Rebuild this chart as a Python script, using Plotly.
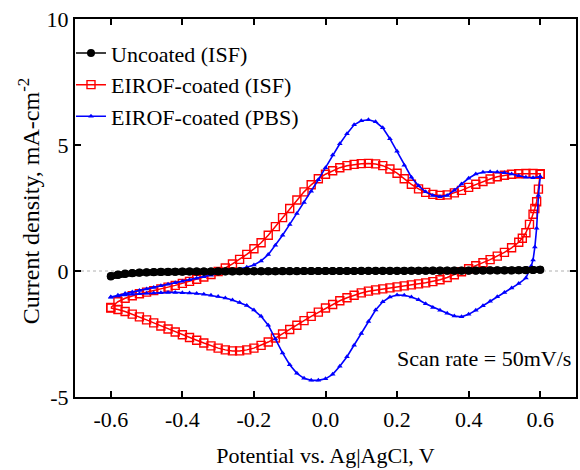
import plotly.graph_objects as go

# ---- cyclic voltammetry data (potential in V vs Ag|AgCl, current density in mA/cm^2) ----

# potential grid of the anodic sweep (-0.6 V -> 0.6 V)
V_ANODIC = [-0.60, -0.58, -0.56, -0.54, -0.52, -0.50, -0.48, -0.46, -0.44, -0.42,
            -0.40, -0.38, -0.36, -0.34, -0.32, -0.30, -0.28, -0.26, -0.24, -0.22,
            -0.20, -0.18, -0.16, -0.14, -0.12, -0.10, -0.08, -0.06, -0.04, -0.02,
            0.00, 0.02, 0.04, 0.06, 0.08, 0.10, 0.12, 0.14, 0.16, 0.18,
            0.20, 0.22, 0.24, 0.26, 0.28, 0.30, 0.32, 0.34, 0.36, 0.38,
            0.40, 0.42, 0.44, 0.46, 0.48, 0.50, 0.52, 0.54, 0.56, 0.58,
            0.60]

# potential grid of the cathodic sweep (0.6 V -> -0.6 V)
V_CATHODIC = [0.60, 0.58, 0.56, 0.54, 0.52, 0.50, 0.48, 0.46, 0.44, 0.42,
              0.40, 0.38, 0.36, 0.34, 0.32, 0.30, 0.28, 0.26, 0.24, 0.22,
              0.20, 0.18, 0.16, 0.14, 0.12, 0.10, 0.08, 0.06, 0.04, 0.02,
              0.00, -0.02, -0.04, -0.06, -0.08, -0.10, -0.12, -0.14, -0.16, -0.18,
              -0.20, -0.22, -0.24, -0.26, -0.28, -0.30, -0.32, -0.34, -0.36, -0.38,
              -0.40, -0.42, -0.44, -0.46, -0.48, -0.50, -0.52, -0.54, -0.56, -0.58,
              -0.60]

# extra points at the switching potential, where the current falls steeply
V_SWITCH_ISF = [0.600, 0.595, 0.590, 0.585, 0.580, 0.570, 0.560, 0.550]
V_SWITCH_PBS = [0.600, 0.595, 0.590, 0.585, 0.580, 0.575, 0.570, 0.560]

# Uncoated electrode in ISF
I_UNCOATED_ANODIC = [-0.22, -0.16, -0.12, -0.09, -0.07, -0.06, -0.05, -0.04, -0.04, -0.03,
                     -0.03, -0.02, -0.02, -0.02, -0.02, -0.02, -0.02, -0.02, -0.01, -0.01,
                     -0.01, -0.01, -0.01, -0.01, -0.01, -0.01, -0.01, 0.00, 0.00, 0.00,
                     0.00, 0.00, 0.00, 0.00, 0.00, 0.00, 0.00, 0.00, 0.00, 0.00,
                     0.00, 0.00, 0.01, 0.01, 0.01, 0.01, 0.01, 0.01, 0.01, 0.01,
                     0.01, 0.01, 0.02, 0.02, 0.02, 0.02, 0.02, 0.03, 0.03, 0.04,
                     0.05]
I_UNCOATED_CATHODIC = [0.05, 0.04, 0.04, 0.03, 0.03, 0.03, 0.03, 0.03, 0.02, 0.02,
                       0.02, 0.02, 0.02, 0.02, 0.02, 0.02, 0.01, 0.01, 0.01, 0.01,
                       0.01, 0.01, 0.01, 0.01, 0.01, 0.01, 0.00, 0.00, 0.00, 0.00,
                       0.00, 0.00, 0.00, 0.00, 0.00, 0.00, 0.00, -0.01, -0.01, -0.01,
                       -0.01, -0.01, -0.01, -0.01, -0.01, -0.01, -0.02, -0.02, -0.02, -0.02,
                       -0.02, -0.03, -0.03, -0.03, -0.04, -0.05, -0.06, -0.08, -0.10, -0.14,
                       -0.20]

# EIROF-coated electrode in ISF
I_ISF_ANODIC = [-1.45, -1.22, -1.08, -0.98, -0.90, -0.84, -0.78, -0.71, -0.64, -0.57,
                -0.49, -0.41, -0.33, -0.24, -0.14, -0.02, 0.12, 0.28, 0.46, 0.66,
                0.88, 1.12, 1.42, 1.76, 2.12, 2.48, 2.82, 3.14, 3.42, 3.66,
                3.84, 3.98, 4.10, 4.18, 4.23, 4.26, 4.27, 4.25, 4.18, 4.05,
                3.88, 3.66, 3.44, 3.26, 3.12, 3.04, 3.00, 3.02, 3.10, 3.20,
                3.32, 3.44, 3.55, 3.65, 3.74, 3.80, 3.84, 3.86, 3.87, 3.87,
                3.86]
I_ISF_SWITCH = [3.84, 3.25, 2.75, 2.48, 2.25, 1.85, 1.52, 1.30]
I_ISF_CATHODIC = [1.14, 0.92, 0.74, 0.59, 0.45, 0.33, 0.21, 0.09, -0.03, -0.15,
                  -0.26, -0.35, -0.42, -0.47, -0.51, -0.55, -0.59, -0.63, -0.67, -0.71,
                  -0.75, -0.80, -0.87, -0.96, -1.06, -1.18, -1.33, -1.47, -1.63, -1.80,
                  -1.97, -2.15, -2.32, -2.50, -2.66, -2.82, -2.95, -3.06, -3.13, -3.17,
                  -3.17, -3.13, -3.06, -2.97, -2.86, -2.75, -2.64, -2.53, -2.42, -2.30,
                  -2.18, -2.06, -1.94, -1.82, -1.71, -1.61, -1.53, -1.47]

# EIROF-coated electrode in PBS
I_PBS_ANODIC = [-1.03, -0.96, -0.89, -0.83, -0.77, -0.71, -0.65, -0.59, -0.53, -0.47,
                -0.41, -0.35, -0.29, -0.23, -0.17, -0.11, -0.05, 0.01, 0.07, 0.15,
                0.24, 0.40, 0.65, 1.02, 1.42, 1.85, 2.28, 2.72, 3.16, 3.62,
                4.10, 4.60, 5.05, 5.45, 5.80, 5.96, 6.00, 5.92, 5.68, 5.25,
                4.75, 4.20, 3.72, 3.38, 3.14, 3.00, 2.95, 3.00, 3.20, 3.45,
                3.68, 3.85, 3.92, 3.94, 3.93, 3.90, 3.85, 3.78, 3.72, 3.70,
                3.74]
I_PBS_SWITCH = [3.74, 3.00, 1.70, 0.95, 0.44, 0.20, 0.04, -0.28]
I_PBS_CATHODIC = [-0.50, -0.67, -0.85, -1.02, -1.20, -1.38, -1.56, -1.72, -1.82, -1.79,
                  -1.68, -1.56, -1.45, -1.30, -1.14, -1.03, -0.96, -0.95, -1.03, -1.22,
                  -1.55, -2.00, -2.48, -2.95, -3.40, -3.78, -4.10, -4.28, -4.34, -4.34,
                  -4.26, -4.06, -3.72, -3.25, -2.70, -2.15, -1.80, -1.55, -1.37, -1.25,
                  -1.15, -1.07, -1.01, -0.96, -0.92, -0.89, -0.87, -0.86, -0.85, -0.85,
                  -0.86, -0.87, -0.88, -0.90, -0.92, -0.95, -0.99, -1.04]

X_TICKS = [-0.6, -0.4, -0.2, 0.0, 0.2, 0.4, 0.6]
X_TICK_TEXT = ["-0.6", "-0.4", "-0.2", "0.0", "0.2", "0.4", "0.6"]
Y_TICKS = [-5, 0, 5, 10]
Y_TICK_TEXT = ["-5", "0", "5", "10"]

# ---- assemble closed cycles ----
isf_v_cath = V_SWITCH_ISF + V_CATHODIC[len(V_CATHODIC) - len(I_ISF_CATHODIC):]
pbs_v_cath = V_SWITCH_PBS + V_CATHODIC[len(V_CATHODIC) - len(I_PBS_CATHODIC):]

uncoated_x = V_ANODIC + V_CATHODIC
uncoated_y = I_UNCOATED_ANODIC + I_UNCOATED_CATHODIC
isf_x = V_ANODIC + isf_v_cath
isf_y = I_ISF_ANODIC + I_ISF_SWITCH + I_ISF_CATHODIC
pbs_x = V_ANODIC + pbs_v_cath
pbs_y = I_PBS_ANODIC + I_PBS_SWITCH + I_PBS_CATHODIC

FONT = "Liberation Serif, Times New Roman, serif"
FS = 22

fig = go.Figure()

fig.add_trace(go.Scatter(
    x=isf_x, y=isf_y, mode="lines+markers", name="EIROF-coated (ISF)",
    line=dict(color="#ff0000", width=1.5),
    marker=dict(symbol="square-open", size=8, color="#ff0000", line=dict(width=1.4)),
    legendrank=2,
))
fig.add_trace(go.Scatter(
    x=pbs_x, y=pbs_y, mode="lines+markers", name="EIROF-coated (PBS)",
    line=dict(color="#0000ff", width=1.6),
    marker=dict(symbol="triangle-up", size=5, color="#0000ff"),
    legendrank=3,
))
# thick band underneath the uncoated-electrode markers
fig.add_trace(go.Scatter(
    x=uncoated_x, y=uncoated_y, mode="lines", showlegend=False, hoverinfo="skip",
    line=dict(color="#000000", width=6),
))
fig.add_trace(go.Scatter(
    x=uncoated_x, y=uncoated_y, mode="lines+markers", name="Uncoated (ISF)",
    line=dict(color="#000000", width=1.5),
    marker=dict(symbol="circle", size=8, color="#000000"),
    legendrank=1,
))

# dotted zero-current reference line
fig.add_shape(type="line", xref="paper", x0=0, x1=1, yref="y", y0=0, y1=0,
              line=dict(color="#b0b0b0", width=1, dash="dot"), layer="below")

axis_common = dict(
    showline=True, linecolor="black", linewidth=2, mirror="ticks",
    ticks="inside", ticklen=6, tickwidth=2, tickcolor="black",
    showgrid=False, zeroline=False,
    tickfont=dict(family=FONT, size=FS, color="black"),
)

fig.update_xaxes(range=[-0.7, 0.7], tickvals=X_TICKS, ticktext=X_TICK_TEXT,
                 ticklabelstandoff=2,
                 title=dict(text="Potential vs. Ag|AgCl, V",
                            font=dict(family=FONT, size=FS, color="black"), standoff=16),
                 **axis_common)
fig.update_yaxes(range=[-5, 10], tickvals=Y_TICKS, ticktext=Y_TICK_TEXT, **axis_common)

fig.add_annotation(text="Current density, mA-cm<sup>-2</sup>", textangle=-90,
                   xref="paper", yref="paper", x=-0.093, y=0.519,
                   xanchor="center", yanchor="middle", showarrow=False,
                   font=dict(family=FONT, size=24, color="black"))
fig.add_annotation(text="Scan rate = 50mV/s", xref="paper", yref="paper",
                   x=0.994, y=0.103, xanchor="right", yanchor="middle", showarrow=False,
                   font=dict(family=FONT, size=FS, color="black"))

fig.update_layout(
    width=580, height=470,
    margin=dict(l=75, r=2, t=19, b=73),
    paper_bgcolor="white", plot_bgcolor="white",
    font=dict(family=FONT, size=FS, color="black"),
    legend=dict(x=-0.008, y=0.965, xanchor="left", yanchor="top",
                bgcolor="rgba(0,0,0,0)", itemwidth=30, tracegroupgap=3,
                font=dict(family=FONT, size=FS, color="black")),
)

fig.write_html("out.html")
